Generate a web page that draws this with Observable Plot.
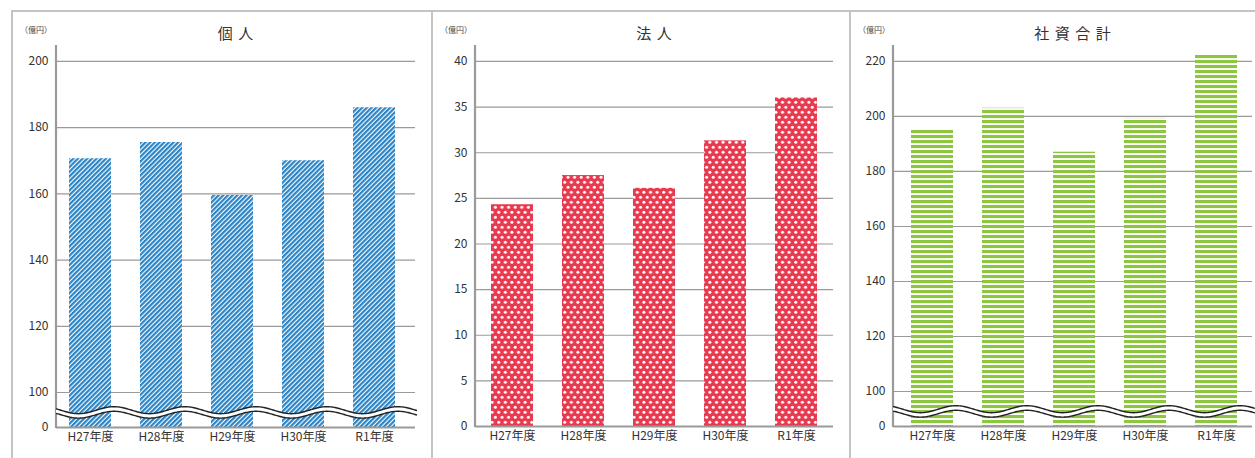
<!DOCTYPE html>
<html><head><meta charset="utf-8">
<script src="https://cdn.jsdelivr.net/npm/d3@7"></script>
<script src="https://cdn.jsdelivr.net/npm/@observablehq/plot@0.6"></script>
<style>
html,body{margin:0;padding:0;background:#fff;}
#root{position:relative;width:1255px;height:458px;overflow:hidden;font-family:"Noto Sans CJK JP","Noto Sans",sans-serif;color:#333;}
.hline{position:absolute;background:#c4c4c4;}
.title{position:absolute;width:240px;text-align:center;font-size:15px;line-height:20px;top:23px;letter-spacing:5.5px;padding-left:5.5px;box-sizing:border-box;color:#333;}
.unit{position:absolute;font-size:8px;line-height:10px;top:25px;color:#444;}
svg.chart{position:absolute;top:0;}
</style>
</head><body>
<div id="root"></div>
<script>
const years = ["H27年度","H28年度","H29年度","H30年度","R1年度"];
const kojinValues  = [170.6, 175.5, 159.5, 170, 186];
const hojinValues  = [24.3, 27.5, 26.1, 31.3, 36.0];
const goukeiValues = [195.2, 203, 187, 199.3, 222.4];
const kojinTicks  = [0, 100, 120, 140, 160, 180, 200];
const hojinTicks  = [0, 5, 10, 15, 20, 25, 30, 35, 40];
const goukeiTicks = [0, 100, 120, 140, 160, 180, 200, 220];
const titles = ["個人", "法人", "社資合計"];
const unitLabel = "（億円）";

const root = document.getElementById("root");

// panel borders
function line(l, t, w, h) {
  const d = document.createElement("div");
  d.className = "hline";
  Object.assign(d.style, {left: l + "px", top: t + "px", width: w + "px", height: h + "px"});
  root.appendChild(d);
}
line(11, 10, 1244, 1.5);
line(11, 10, 1.5, 448);
line(431, 10, 1.5, 448);
line(849, 10, 1.5, 448);

function addDefs(svg, id, kind) {
  const defs = d3.select(svg).insert("defs", ":first-child");
  if (kind === "blue") {
    const p = defs.append("pattern").attr("id", id).attr("patternUnits", "userSpaceOnUse")
      .attr("width", 3.3).attr("height", 10).attr("patternTransform", "rotate(45)");
    p.append("rect").attr("width", 3.3).attr("height", 10).attr("fill", "#fff");
    p.append("rect").attr("width", 2.2).attr("height", 10).attr("fill", "#2a84c6");
  } else if (kind === "red") {
    const p = defs.append("pattern").attr("id", id).attr("patternUnits", "userSpaceOnUse")
      .attr("width", 6.6).attr("height", 10);
    p.append("rect").attr("width", 6.6).attr("height", 10).attr("fill", "#e8394f");
    p.append("circle").attr("cx", 1.7).attr("cy", 2.3).attr("r", 1.5).attr("fill", "#fff");
    p.append("circle").attr("cx", 5.0).attr("cy", 7.3).attr("r", 1.5).attr("fill", "#fff");
  } else {
    const p = defs.append("pattern").attr("id", id).attr("patternUnits", "userSpaceOnUse")
      .attr("width", 10).attr("height", 5);
    p.append("rect").attr("width", 10).attr("height", 5).attr("fill", "#fff");
    p.append("rect").attr("width", 10).attr("height", 3.1).attr("fill", "#8dc63f");
  }
}

function drawPanel(cfg) {
  const {left, width, marginLeft, marginRight, values, domain, range, ticks, kind, id, brk, brkEnd, title, align} = cfg;
  const data = years.map((year, i) => ({year, value: values[i]}));
  const svg = Plot.plot({
    width, height: 458,
    marginLeft, marginRight, marginTop: 45, marginBottom: 458 - range[0],
    style: {fontFamily: "'Noto Sans CJK JP','Noto Sans',sans-serif", fontSize: "12px", color: "#333", background: "transparent", overflow: "visible"},
    x: {domain: years, paddingInner: 0.41, paddingOuter: 0.2, align, tickSize: 0, tickPadding: 5, label: null},
    y: {type: "linear", domain, range, ticks, tickSize: 0, tickPadding: 8, label: null},
    marks: [
      Plot.ruleY(ticks.filter(d => d > 0), {stroke: "#9a9a9a", strokeWidth: 1.2}),
      Plot.barY(data, {x: "year", y: "value", fill: `url(#${id})`}),
      Plot.ruleY([0], {stroke: "#9a9a9a", strokeWidth: 2.2})
    ]
  });
  svg.classList.add("chart");
  svg.style.left = left + "px";
  addDefs(svg, id, kind);
  const ys = svg.scale("y"), xs = svg.scale("x");
  // y axis line
  d3.select(svg).append("line")
    .attr("x1", marginLeft).attr("x2", marginLeft)
    .attr("y1", 45).attr("y2", range[0] + 1)
    .attr("stroke", "#9a9a9a").attr("stroke-width", 2.2);
  if (brk) {
    const mid = (ys.apply(0) + ys.apply(100)) / 2;
    const x0 = xs.apply(years[0]), x1b = xs.apply(years[1]);
    const step = x1b - x0;
    const phase = x0 + xs.bandwidth + 3;
    const up = [], lo = [];
    for (let px = marginLeft; px <= brkEnd; px += 1) {
      const c = Math.cos(2 * Math.PI * (px - phase) / step);
      up.push([px, mid + 0.7 - 3.5 * c]);
      lo.push([px, mid + 5.2 - 3.4 * c]);
    }
    const g = d3.select(svg).append("g");
    g.append("path").attr("d", d3.line()(up.concat(lo.slice().reverse())) + "Z").attr("fill", "#fff");
    g.append("path").attr("d", d3.line()(up)).attr("fill", "none").attr("stroke", "#222").attr("stroke-width", 1.4);
    g.append("path").attr("d", d3.line()(lo)).attr("fill", "none").attr("stroke", "#222").attr("stroke-width", 1.4);
  }
  root.appendChild(svg);
  // title and unit
  const center = left + (marginLeft + (width - marginRight)) / 2;
  const t = document.createElement("div");
  t.className = "title";
  t.textContent = title;
  t.style.left = (center - 120) + "px";
  root.appendChild(t);
  const u = document.createElement("div");
  u.className = "unit";
  u.textContent = unitLabel;
  u.style.left = (left + 9) + "px";
  root.appendChild(u);
}

drawPanel({left: 11, width: 420, marginLeft: 45, marginRight: 16, values: kojinValues,
  domain: [0, 100, 204.8], range: [427, 392, 45], ticks: kojinTicks, kind: "blue", id: "pBlue",
  brk: true, brkEnd: 406, title: titles[0], align: 0.4});
drawPanel({left: 431, width: 418, marginLeft: 44, marginRight: 16, values: hojinValues,
  domain: [0, 41.75], range: [426, 45], ticks: hojinTicks, kind: "red", id: "pRed",
  brk: false, title: titles[1], align: 0.5});
drawPanel({left: 849, width: 406, marginLeft: 44, marginRight: 3, values: goukeiValues,
  domain: [0, 100, 225.8], range: [426, 391, 45], ticks: goukeiTicks, kind: "green", id: "pGreen",
  brk: true, brkEnd: 406, title: titles[2], align: 0.55});
</script>
</body></html>
